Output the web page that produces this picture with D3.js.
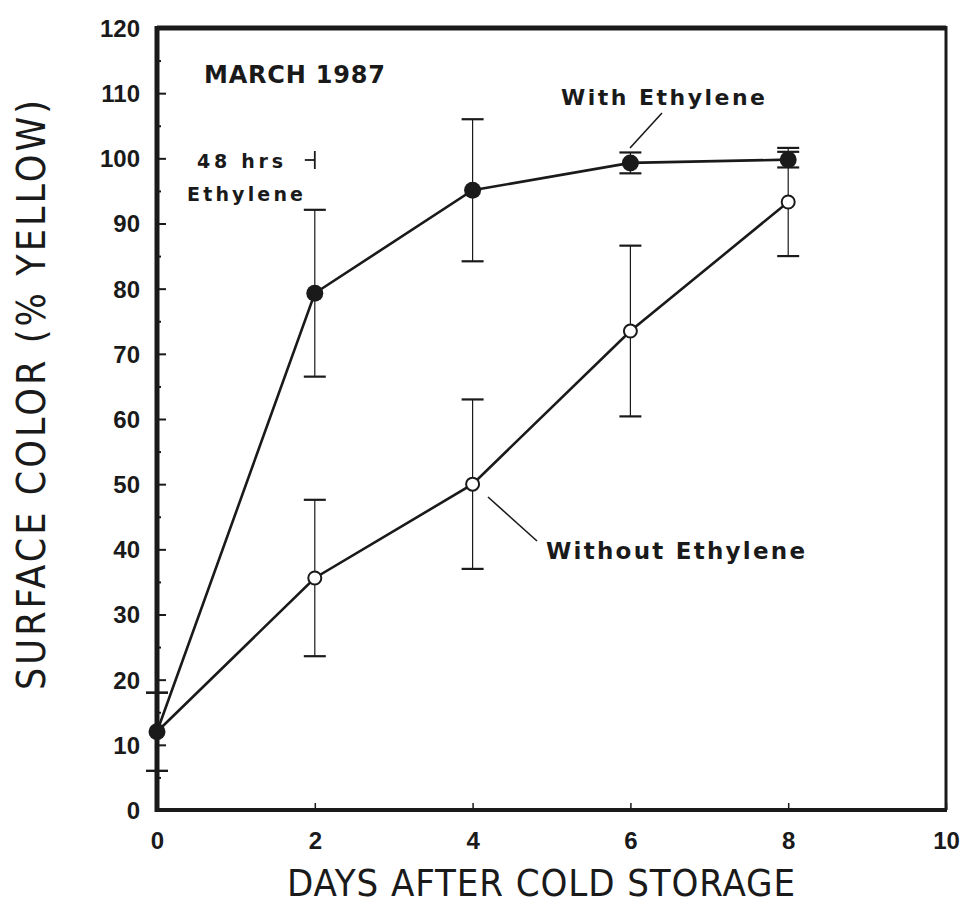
<!DOCTYPE html>
<html><head><meta charset="utf-8">
<script src="https://cdn.jsdelivr.net/npm/d3@7"></script>
<style>body{margin:0;background:#fff}svg{display:block}</style>
</head><body>
<svg id="c" width="968" height="904"></svg>
<script>
const days = [0, 2, 4, 6, 8];
const withEth = [12.0, 79.3, 95.1, 99.3, 99.8];
const withErr = [6.0, 12.8, 10.9, 1.6, 1.2];
const withoutEth = [12.0, 35.6, 50.0, 73.5, 93.3];
const withoutErr = [6.0, 12.0, 13.0, 13.1, 8.3];
const xTicks = [0, 2, 4, 6, 8, 10];
const yTicks = [0, 10, 20, 30, 40, 50, 60, 70, 80, 90, 100, 110, 120];
const yMinor = [5, 15, 25, 35, 45, 55, 65, 75, 85, 95, 105, 115];

const ink = "#1a1a1a";
const svg = d3.select("#c");
const L = 157, R = 946, T = 28, B = 810;
const x = d3.scaleLinear().domain([0, 10]).range([L, R]);
const y = d3.scaleLinear().domain([0, 120]).range([B, T]);

// frame
svg.append("line").attr("x1", L).attr("x2", R).attr("y1", T).attr("y2", T).attr("stroke", ink).attr("stroke-width", 5);
svg.append("line").attr("x1", R).attr("x2", R).attr("y1", T - 2).attr("y2", B).attr("stroke", ink).attr("stroke-width", 3);
svg.append("line").attr("x1", L - 2).attr("x2", R + 1).attr("y1", B).attr("y2", B).attr("stroke", ink).attr("stroke-width", 4);
svg.append("line").attr("x1", L).attr("x2", L).attr("y1", T - 2).attr("y2", B + 2).attr("stroke", ink).attr("stroke-width", 5);

// y axis (ticks inward)
const yAxis = d3.axisLeft(y).tickValues(yTicks).tickSize(-9).tickPadding(17).tickFormat(d3.format("d"));
const gy = svg.append("g").attr("transform", `translate(${L},0)`).call(yAxis);
gy.select(".domain").remove();
gy.selectAll(".tick line").attr("stroke", ink).attr("stroke-width", 2);
gy.selectAll(".tick text").attr("font-family", "Liberation Sans, Arial, sans-serif").attr("font-weight", "bold").attr("font-size", 24).attr("fill", ink).attr("dy", "0.35em");
const yMinorAxis = d3.axisLeft(y).tickValues(yMinor).tickSize(-4).tickFormat("");
const gym = svg.append("g").attr("transform", `translate(${L},0)`).call(yMinorAxis);
gym.select(".domain").remove();
gym.selectAll(".tick line").attr("stroke", ink).attr("stroke-width", 2);

// x axis (ticks inward)
const xAxis = d3.axisBottom(x).tickValues(xTicks).tickSize(-7).tickPadding(22).tickFormat(d3.format("d"));
const gx = svg.append("g").attr("transform", `translate(0,${B})`).call(xAxis);
gx.select(".domain").remove();
gx.selectAll(".tick line").attr("stroke", ink).attr("stroke-width", 1.5);
gx.selectAll(".tick text").attr("font-family", "Liberation Sans, Arial, sans-serif").attr("font-weight", "bold").attr("font-size", 24).attr("fill", ink);

// axis titles
svg.append("text").attr("x", 541).attr("y", 896).attr("text-anchor", "middle")
  .attr("font-family", "Liberation Sans Narrow, DejaVu Sans Condensed, sans-serif").attr("font-size", 38)
  .attr("textLength", 508).attr("lengthAdjust", "spacing").attr("fill", ink)
  .text("DAYS AFTER COLD STORAGE");
svg.append("text").attr("transform", "translate(45,395) rotate(-90)").attr("text-anchor", "middle")
  .attr("font-family", "Liberation Sans Narrow, DejaVu Sans Condensed, sans-serif").attr("font-size", 39)
  .attr("textLength", 590).attr("lengthAdjust", "spacing").attr("fill", ink)
  .text("SURFACE COLOR (% YELLOW)");

const plot = svg.append("g");
const capW = 11;
function errorBars(vals, errs, w) {
  const g = plot.append("g").attr("stroke", ink);
  days.forEach((d, i) => {
    if (errs[i] <= 0) return;
    g.append("line").attr("x1", x(d)).attr("x2", x(d)).attr("y1", y(vals[i] + errs[i])).attr("y2", y(vals[i] - errs[i])).attr("stroke-width", w);
    [vals[i] + errs[i], vals[i] - errs[i]].forEach(v => {
      g.append("line").attr("x1", x(d) - capW).attr("x2", x(d) + capW).attr("y1", y(v)).attr("y2", y(v)).attr("stroke-width", 2.2);
    });
  });
}
errorBars(withoutEth, withoutErr, 1.2);
errorBars(withEth, withErr, 1.2);

const line = d3.line().x((d, i) => x(days[i])).y(d => y(d));
plot.append("path").datum(withoutEth).attr("d", line).attr("fill", "none").attr("stroke", ink).attr("stroke-width", 2.6);
plot.append("path").datum(withEth).attr("d", line).attr("fill", "none").attr("stroke", ink).attr("stroke-width", 2.6);

// markers
plot.selectAll(".open").data(withoutEth.slice(1)).enter().append("circle")
  .attr("cx", (d, i) => x(days[i + 1])).attr("cy", d => y(d)).attr("r", 6.5)
  .attr("fill", "#fff").attr("stroke", ink).attr("stroke-width", 2);
plot.selectAll(".filled").data(withEth).enter().append("circle")
  .attr("cx", (d, i) => x(days[i])).attr("cy", d => y(d)).attr("r", 8.5)
  .attr("fill", ink);

// annotations
const fa = "DejaVu Sans, Verdana, sans-serif";
function label(t, xx, yy, size, len) {
  svg.append("text").attr("x", xx).attr("y", yy).attr("font-family", fa).attr("font-weight", "bold")
    .attr("font-size", size).attr("textLength", len).attr("fill", ink).text(t);
}
label("MARCH 1987", 204, 83, 24, 181);
label("With Ethylene", 561, 105, 22, 204);
label("Without Ethylene", 546, 559, 23, 259);
label("48 hrs", 197, 168, 19, 86);
label("Ethylene", 187, 201, 19, 116);

// 48 hrs marker (ends at day 2)
svg.append("line").attr("x1", x(2) - 10).attr("x2", x(2)).attr("y1", 160).attr("y2", 160).attr("stroke", ink).attr("stroke-width", 1.8);
svg.append("line").attr("x1", x(2)).attr("x2", x(2)).attr("y1", 151).attr("y2", 169).attr("stroke", ink).attr("stroke-width", 1.8);

// leader lines
svg.append("line").attr("x1", 662).attr("y1", 113).attr("x2", 630).attr("y2", 148).attr("stroke", ink).attr("stroke-width", 1.6);
svg.append("line").attr("x1", 488).attr("y1", 497).attr("x2", 537).attr("y2", 541).attr("stroke", ink).attr("stroke-width", 1.6);
</script>
</body></html>
